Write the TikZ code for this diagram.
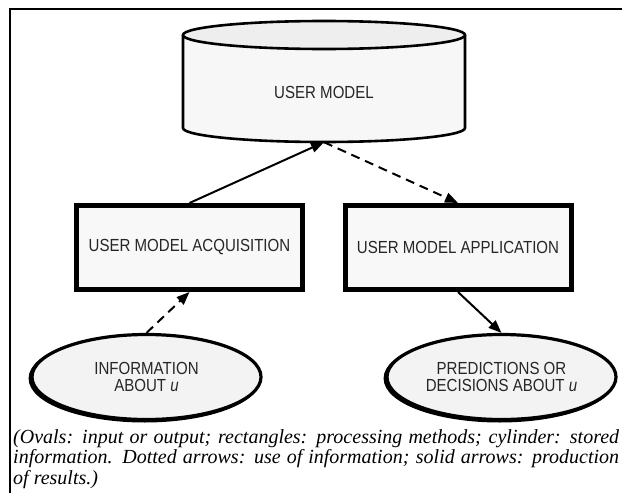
\documentclass[tikz,border=0pt]{standalone}
\usepackage{fontspec}
\setmainfont{Liberation Serif}
\newfontfamily\labelsf[FakeStretch=0.86]{Liberation Sans}
\usetikzlibrary{shapes.geometric,arrows.meta,shadows}

\definecolor{bodygray}{HTML}{F7F7F7}
\definecolor{capgray}{HTML}{EEEEEE}
\definecolor{boxgray}{HTML}{F8F8F8}
\definecolor{ovalgray}{HTML}{F3F3F3}

\tikzset{
  lbl/.style={font=\labelsf\fontsize{17.5pt}{17pt}\selectfont, align=center, text=black!85},
  procbox/.style={lbl, draw, line width=5pt, fill=boxgray, rectangle,
    minimum width=226pt, minimum height=84pt, inner sep=0pt},
  oval/.style={lbl, draw, line width=3.2pt, fill=ovalgray, ellipse,
    minimum width=229pt, minimum height=85pt, inner sep=0pt,
    general shadow={shadow xshift=-1.8pt, shadow yshift=-1.4pt, fill=black, draw=black, line width=3.2pt}},
  store/.style={lbl, rectangle, minimum width=282pt, minimum height=121pt, inner sep=0pt},
  link/.style={line width=2pt, -{Triangle[length=13pt,width=10pt]}},
  uselink/.style={link, dash pattern=on 9pt off 6pt},
  note/.style={font=\itshape\fontsize{20pt}{20.5pt}\selectfont,
    inner sep=0pt, anchor=base west}
}

\begin{document}
\begin{tikzpicture}[x=1pt, y=-1pt]
  \useasboundingbox (0,0) rectangle (622,493);
  \fill[white] (0,0) rectangle (622,493);

  % open frame: top and left rules only
  \draw[line width=2pt] (10,493) -- (10,9) -- (622,9);

  % stored user model (cylinder)
  \node[store] (um) at (324,81.5) {};
  \filldraw[fill=bodygray, line width=2.6pt]
    (183,35) -- (183,128)
    arc[start angle=180, end angle=0, x radius=141, y radius=14]
    -- (465,35);
  \filldraw[fill=capgray, line width=2.6pt] (324,35) ellipse[x radius=141, y radius=14];
  \node[lbl] at (324,92) {USER MODEL};

  % processing methods
  \node[procbox] (acq) at (189.5,247.5) {USER MODEL ACQUISITION};
  \node[procbox] (app) at (458,247.5) {USER MODEL APPLICATION};

  % input and output
  \node[oval] (info) at (146.5,377) {INFORMATION\\ABOUT \textit{u}};
  \node[oval] (pred) at (501.5,377) {PREDICTIONS OR\\DECISIONS ABOUT \textit{u}};

  % connectors
  \draw[link] (acq.north) -- (um.south);
  \draw[uselink] (um.south) -- (app.north);
  \draw[uselink] (info.north) -- (acq.south);
  \draw[link] (app.south) -- (pred.north);

  % legend
  \node[note] (cap) at (13,443) {\vtop{\hsize=606pt\baselineskip=20.5pt
    \hbox to\hsize{(Ovals: input or output; rectangles: processing methods; cylinder: stored}
    \hbox to\hsize{information. Dotted arrows: use of information; solid arrows: production}
    \hbox{of results.)}}};
\end{tikzpicture}
\end{document}
